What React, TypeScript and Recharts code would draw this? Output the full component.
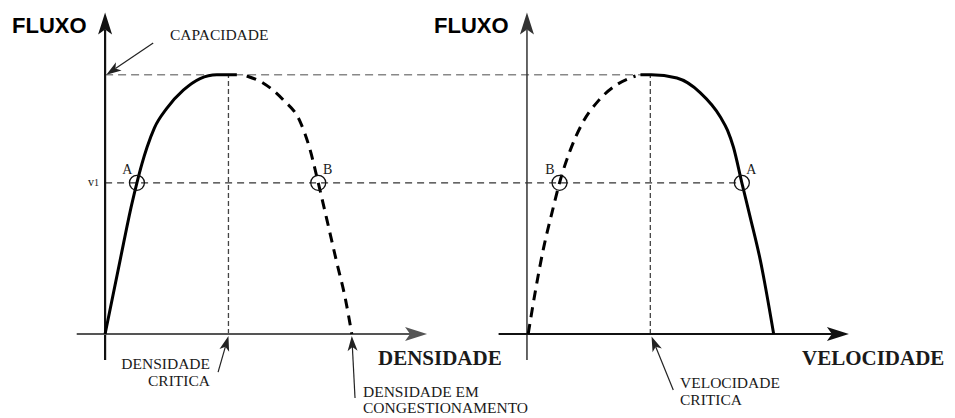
import React from "react";
import { ComposedChart, Line, XAxis, YAxis, ReferenceLine, ReferenceDot } from "recharts";

// left panel: flow (fraction of capacity) vs density (% of jam density)
const DENSITY_STABLE = [0, 6.1, 10.8, 12.9, 14.9, 17, 20, 25, 31.7, 38.5, 45.3, 53.4];
const FLOW_DENSITY_STABLE = [0, 0.285, 0.5, 0.583, 0.655, 0.72, 0.795, 0.87, 0.94, 0.985, 1.0, 1.0];
const DENSITY_CONGESTED = [57.4, 64.0, 72.2, 79.0, 83.1, 86.4, 89.8, 93.8, 97.3, 100];
const FLOW_DENSITY_CONGESTED = [0.995, 0.968, 0.903, 0.82, 0.71, 0.583, 0.445, 0.28, 0.14, 0];

// right panel: flow vs speed (% of free-flow speed)
const SPEED_CONGESTED = [0.5, 3.4, 6.7, 10.2, 13.2, 17.6, 22.3, 29, 36.5, 44];
const FLOW_SPEED_CONGESTED = [0, 0.165, 0.33, 0.47, 0.583, 0.71, 0.81, 0.9, 0.962, 0.995];
const SPEED_STABLE = [46, 50.4, 60.8, 70.3, 78.4, 81.3, 83.7, 87.1, 90.5, 94.6, 100];
const FLOW_SPEED_STABLE = [1.0, 1.0, 0.987, 0.93, 0.837, 0.785, 0.72, 0.583, 0.45, 0.284, 0];

const CAPACITY = 1;
const FLOW_V1 = 0.583;
const CRITICAL_DENSITY = 50;
const CRITICAL_SPEED = 50;
const DENSITY_POINTS = [{ label: "A", x: 12.9, side: -1 }, { label: "B", x: 86.4, side: 1 }];
const SPEED_POINTS = [{ label: "B", x: 13.2, side: -1 }, { label: "A", x: 87.1, side: 1 }];

// both panels share one canvas; the speed axis is the density axis shifted right
const RIGHT_OFFSET = 171;
const K_DOMAIN = [-42.6, 344.5];
const V_DOMAIN = [K_DOMAIN[0] - RIGHT_OFFSET, K_DOMAIN[1] - RIGHT_OFFSET];
const Q_DOMAIN = [-0.324, 1.288];
const AXIS_X = [-11.5, 130.5];
const AXIS_Y = [-0.1, 1.24];

const W = 955;
const H = 418;
const SERIF = '"Liberation Serif", "Times New Roman", Times, serif';
const SANS = '"Liberation Sans", Arial, Helvetica, sans-serif';
const INK = "#1a1a1a";

const zip = (xs: number[], ys: number[]) => xs.map((x, i) => ({ x, q: ys[i] }));

function arrow(len: number, half: number, notch: number, width: number, color: string) {
  return (p: any) => {
    const { x1, y1, x2, y2 } = p;
    const dx = x2 - x1;
    const dy = y2 - y1;
    const d = Math.hypot(dx, dy) || 1;
    const ux = dx / d;
    const uy = dy / d;
    const bx = x2 - ux * len;
    const by = y2 - uy * len;
    const nx = x2 - ux * (len - notch);
    const ny = y2 - uy * (len - notch);
    const pts = `${x2},${y2} ${bx - uy * half},${by + ux * half} ${nx},${ny} ${bx + uy * half},${by - ux * half}`;
    return (
      <g>
        <line x1={x1} y1={y1} x2={nx} y2={ny} stroke={color} strokeWidth={width} />
        <polygon points={pts} fill={color} />
      </g>
    );
  };
}

const pointLabel = (text: string, side: number) => (p: any) => {
  const vb = p.viewBox || {};
  const cx = vb.cx !== undefined ? vb.cx : vb.x + (vb.width || 0) / 2;
  const cy = vb.cy !== undefined ? vb.cy : vb.y + (vb.height || 0) / 2;
  return (
    <text x={cx + side * 9.5} y={cy - 9} textAnchor="middle" style={{ fontFamily: SERIF, fontSize: 14 }} fill={INK}>
      {text}
    </text>
  );
};

export default function App() {
  const axisArrow = arrow(22, 7, 5, 2.2, "#111");
  const grayAxisArrow = arrow(22, 7, 5, 2, "#555");
  const thinAxisArrow = arrow(22, 7, 5, 1.5, "#333");
  const noteArrow = arrow(15, 5, 4, 1.2, "#222");
  return (
    <div style={{ position: "absolute", left: 0, top: 0, width: W, height: H, background: "#fff" }}>
      <ComposedChart width={W} height={H} margin={{ top: 0, right: 0, bottom: 0, left: 0 }}>
        <XAxis xAxisId="k" dataKey="x" type="number" domain={K_DOMAIN} allowDataOverflow hide />
        <XAxis xAxisId="v" dataKey="x" type="number" domain={V_DOMAIN} allowDataOverflow hide />
        <YAxis type="number" domain={Q_DOMAIN} allowDataOverflow hide />

        {/* guide lines */}
        <ReferenceLine xAxisId="k" ifOverflow="visible" segment={[{ x: 0, y: CAPACITY }, { x: RIGHT_OFFSET + CRITICAL_SPEED, y: CAPACITY }]} stroke="#888" strokeWidth={1.4} strokeDasharray="8 5" />
        <ReferenceLine xAxisId="k" ifOverflow="visible" segment={[{ x: 0, y: FLOW_V1 }, { x: RIGHT_OFFSET + SPEED_POINTS[1].x, y: FLOW_V1 }]} stroke="#333" strokeWidth={1.3} strokeDasharray="7 5" />
        <ReferenceLine xAxisId="k" ifOverflow="visible" segment={[{ x: CRITICAL_DENSITY, y: 0 }, { x: CRITICAL_DENSITY, y: CAPACITY }]} stroke="#444" strokeWidth={1.3} strokeDasharray="5 3" />
        <ReferenceLine xAxisId="v" ifOverflow="visible" segment={[{ x: CRITICAL_SPEED, y: 0 }, { x: CRITICAL_SPEED, y: CAPACITY }]} stroke="#444" strokeWidth={1.3} strokeDasharray="5 3" />

        {/* axes */}
        <ReferenceLine xAxisId="k" ifOverflow="visible" segment={[{ x: 0, y: AXIS_Y[0] }, { x: 0, y: AXIS_Y[1] }]} shape={axisArrow} />
        <ReferenceLine xAxisId="k" ifOverflow="visible" segment={[{ x: AXIS_X[0], y: 0 }, { x: AXIS_X[1], y: 0 }]} shape={grayAxisArrow} />
        <ReferenceLine xAxisId="v" ifOverflow="visible" segment={[{ x: 0, y: AXIS_Y[0] }, { x: 0, y: AXIS_Y[1] }]} shape={thinAxisArrow} />
        <ReferenceLine xAxisId="v" ifOverflow="visible" segment={[{ x: AXIS_X[0], y: 0 }, { x: AXIS_X[1], y: 0 }]} shape={axisArrow} />

        {/* annotation arrows */}
        <ReferenceLine xAxisId="k" ifOverflow="visible" segment={[{ x: 19.5, y: 1.122 }, { x: 0.5, y: 1.0 }]} shape={noteArrow} />
        <ReferenceLine xAxisId="k" ifOverflow="visible" segment={[{ x: 45.8, y: -0.147 }, { x: CRITICAL_DENSITY, y: -0.008 }]} shape={noteArrow} />
        <ReferenceLine xAxisId="k" ifOverflow="visible" segment={[{ x: 101.3, y: -0.247 }, { x: 100, y: -0.008 }]} shape={noteArrow} />
        <ReferenceLine xAxisId="v" ifOverflow="visible" segment={[{ x: 59.3, y: -0.216 }, { x: CRITICAL_SPEED + 0.5, y: -0.01 }]} shape={noteArrow} />

        <Line xAxisId="k" data={zip(DENSITY_STABLE, FLOW_DENSITY_STABLE)} dataKey="q" type="monotone" stroke="#000" strokeWidth={3} dot={false} isAnimationActive={false} />
        <Line xAxisId="k" data={zip(DENSITY_CONGESTED, FLOW_DENSITY_CONGESTED)} dataKey="q" type="monotone" stroke="#000" strokeWidth={3} strokeDasharray="10 7" dot={false} isAnimationActive={false} />
        <Line xAxisId="v" data={zip(SPEED_CONGESTED, FLOW_SPEED_CONGESTED)} dataKey="q" type="monotone" stroke="#000" strokeWidth={3} strokeDasharray="10 7" dot={false} isAnimationActive={false} />
        <Line xAxisId="v" data={zip(SPEED_STABLE, FLOW_SPEED_STABLE)} dataKey="q" type="monotone" stroke="#000" strokeWidth={3} dot={false} isAnimationActive={false} />

        {DENSITY_POINTS.map((p) => (
          <ReferenceDot key={"k" + p.label} xAxisId="k" x={p.x} y={FLOW_V1} r={7.5} fill="none" stroke="#111" strokeWidth={1.3} label={pointLabel(p.label, p.side)} />
        ))}
        {SPEED_POINTS.map((p) => (
          <ReferenceDot key={"v" + p.label} xAxisId="v" x={p.x} y={FLOW_V1} r={7.5} fill="none" stroke="#111" strokeWidth={1.3} label={pointLabel(p.label, p.side)} />
        ))}
      </ComposedChart>

      <svg width={W} height={H} style={{ position: "absolute", left: 0, top: 0, pointerEvents: "none" }}>
        <g style={{ fontFamily: SANS, fontWeight: 700, fontSize: 22 }} fill="#000">
          <text x={12} y={33}>FLUXO</text>
          <text x={434} y={33}>FLUXO</text>
        </g>
        <g style={{ fontFamily: SERIF, fontSize: 15.5 }} fill={INK}>
          <text x={170} y={40}>CAPACIDADE</text>
          <text x={210} y={369} textAnchor="end">DENSIDADE</text>
          <text x={210} y={386} textAnchor="end">CRITICA</text>
          <text x={363} y={397}>DENSIDADE EM</text>
          <text x={363} y={413}>CONGESTIONAMENTO</text>
          <text x={680} y={388}>VELOCIDADE</text>
          <text x={680} y={405}>CRITICA</text>
          <text x={88} y={186} style={{ fontSize: 12 }}>v<tspan style={{ fontSize: 10 }}>1</tspan></text>
        </g>
        <g style={{ fontFamily: SERIF, fontWeight: 700, fontSize: 21 }} fill={INK}>
          <text x={378} y={365}>DENSIDADE</text>
          <text x={802} y={365}>VELOCIDADE</text>
        </g>
      </svg>
    </div>
  );
}
